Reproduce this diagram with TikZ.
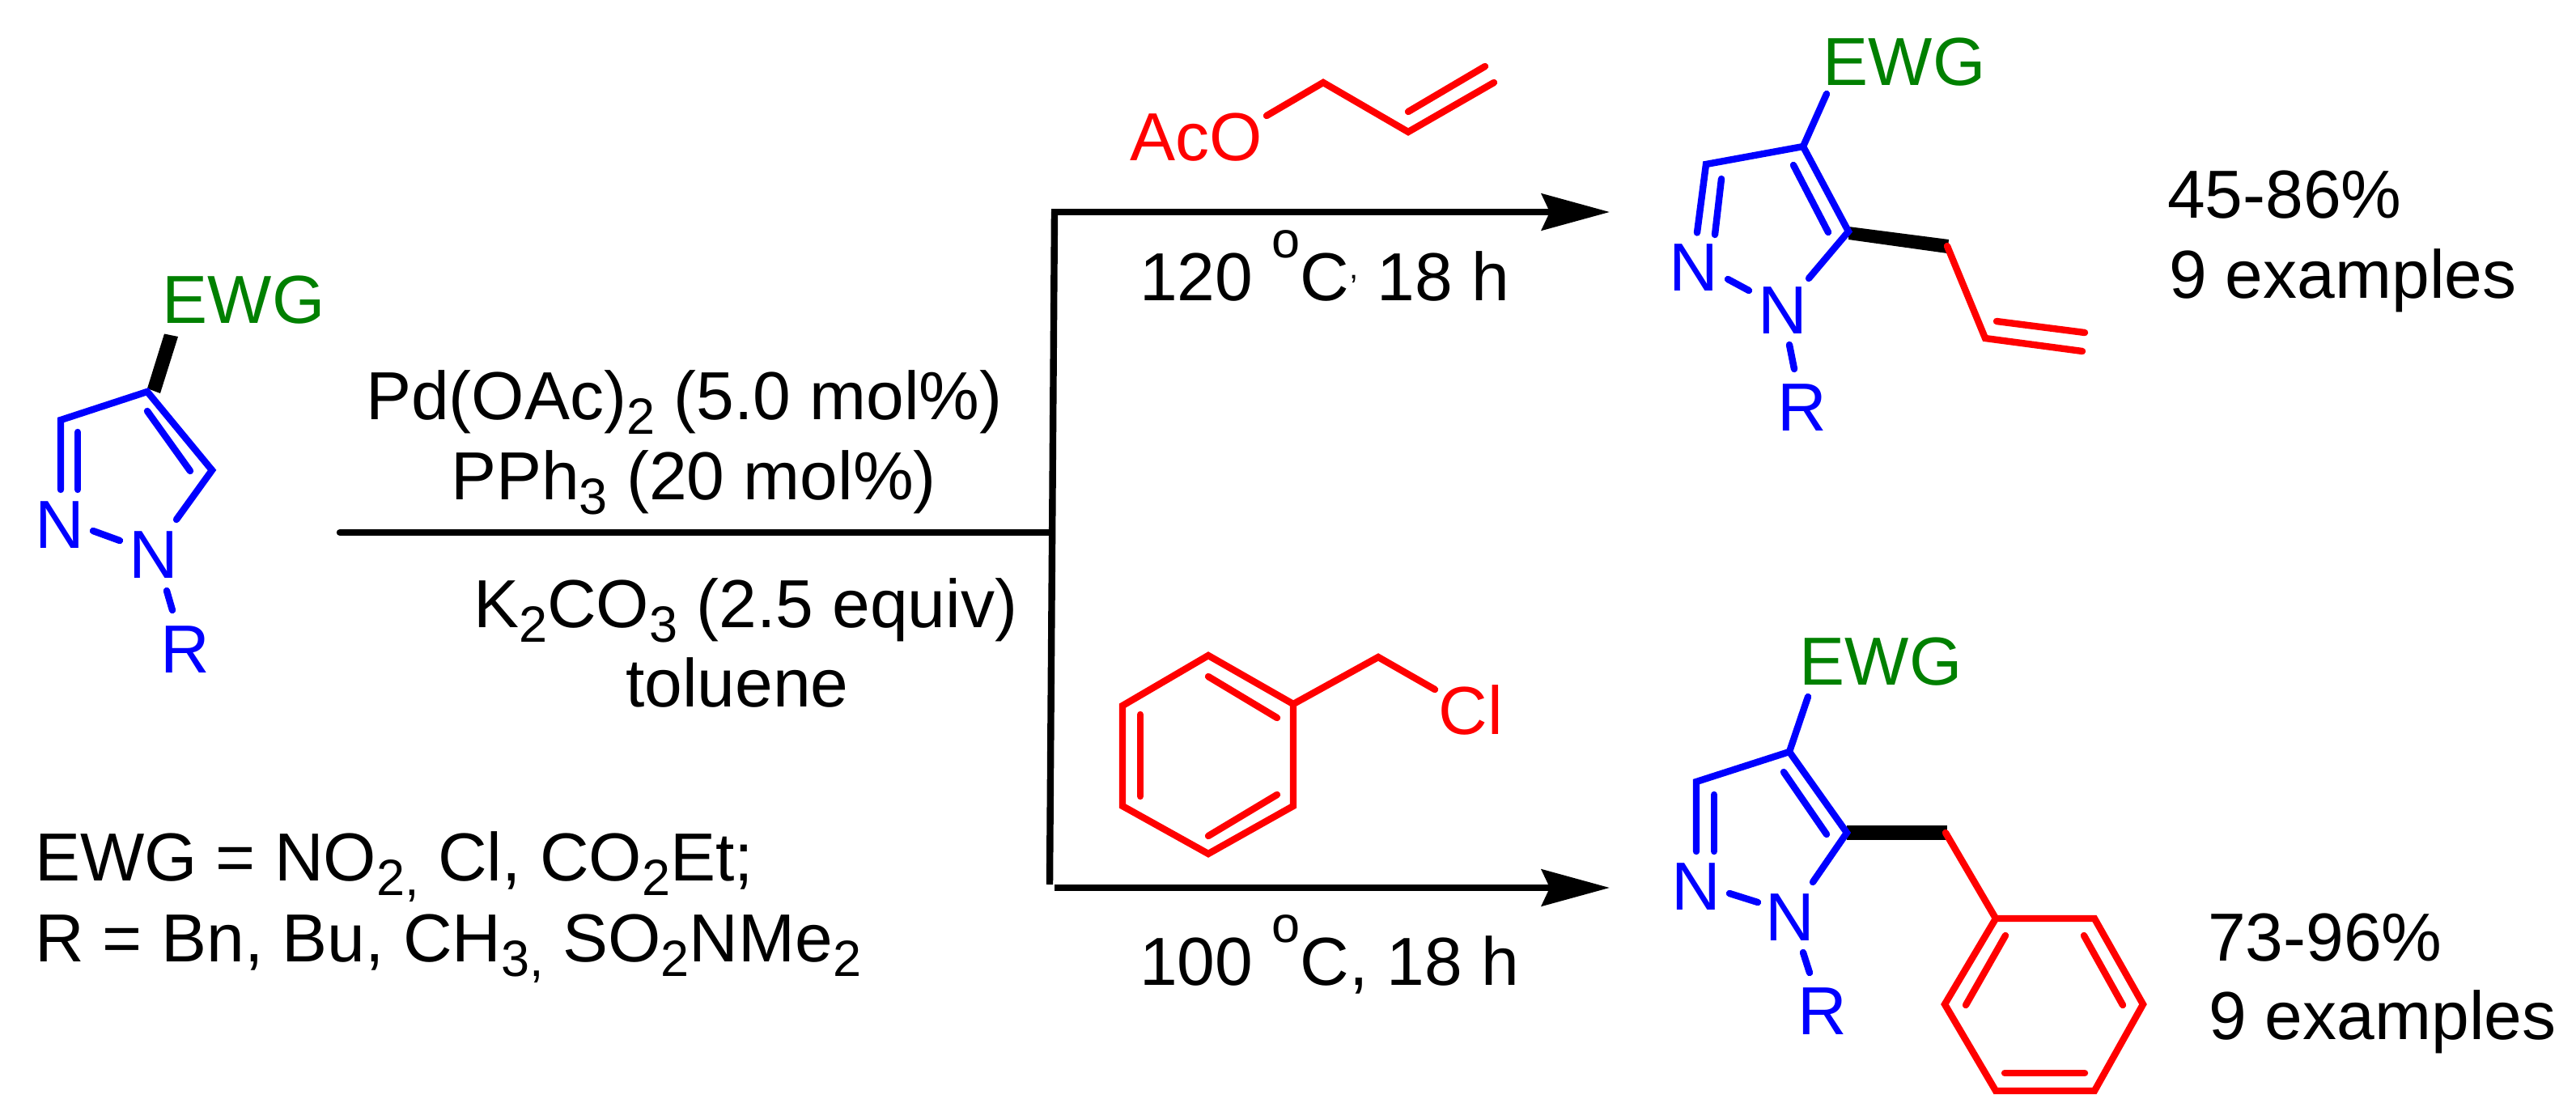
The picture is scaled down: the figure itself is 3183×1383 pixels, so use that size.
\documentclass[tikz,border=0pt]{standalone}
\usepackage{fontspec}
\setmainfont{Liberation Sans}
\usetikzlibrary{arrows.meta}
\definecolor{molblue}{RGB}{0,0,255}
\definecolor{molred}{RGB}{255,0,0}
\definecolor{molgreen}{RGB}{0,128,0}
\newcommand{\sbs}[1]{\raisebox{-0.22em}{\fontsize{15.75}{16}\selectfont #1}}
\newcommand{\spr}[1]{\raisebox{0.62em}{\fontsize{15.75}{16}\selectfont #1}}
\tikzset{
  x=0.25pt,y=-0.25pt,
  txt/.style={inner sep=0pt,outer sep=0pt,font=\fontsize{21}{25}\selectfont,text=black},
  lft/.style={txt,anchor=base west},
  ctr/.style={txt,anchor=base},
  atomb/.style={ctr,text=molblue},
  atomg/.style={ctr,text=molgreen},
  atomr/.style={ctr,text=molred},
  bond/.style={line width=2.1pt,line cap=round,line join=miter,color=molblue},
  rbond/.style={bond,color=molred},
  wedge/.style={fill=black,draw=none},
  rxn/.style={line width=2.1pt,color=black},
  rxnarrow/.style={rxn,-{Stealth[length=21pt,width=11.25pt,inset=2.5pt]}}
}
\begin{document}
\begin{tikzpicture}
\path[fill=white,use as bounding box] (0,0) rectangle (3183,1383);

% --- starting material
\coordinate (a4) at (182,484); \coordinate (a3) at (75,519); \coordinate (a3n) at (75,605);
\coordinate (a3i) at (96,534); \coordinate (a3j) at (96,605);
\coordinate (a5) at (262,581); \coordinate (a5i) at (182,508); \coordinate (a5j) at (235,582);
\coordinate (a1e) at (218,642); \coordinate (ann1) at (115,656); \coordinate (ann2) at (148,668);
\coordinate (ar1) at (206,730); \coordinate (ar2) at (213,754);
\fill[wedge] (182,480) -- (198,486) -- (220,416) -- (203,412.5) -- cycle;
\draw[bond] (a3n) -- (a3) -- (a4) -- (a5) -- (a1e);
\draw[bond] (a3i) -- (a3j);
\draw[bond] (a5i) -- (a5j);
\draw[bond] (ann1) -- (ann2);
\draw[bond] (ar1) -- (ar2);
\node[atomg] (aewg) at (301,399) {EWG};
\node[atomb] (an2) at (74,677) {N};
\node[atomb] (an1) at (190,714) {N};
\node[atomb] (ar) at (229,831) {R};

% --- reagents
\node[lft] (pd) at (452,518) {Pd(OAc)\sbs{2} (5.0 mol\%)};
\node[lft] (pph) at (557,617) {PPh\sbs{3} (20 mol\%)};
\node[lft] (k2) at (585,775) {K\sbs{2}CO\sbs{3} (2.5 equiv)};
\node[lft] (tol) at (773,873) {toluene};
\node[lft] (ewgdef) at (43,1088) {EWG = NO\sbs{2,} Cl, CO\sbs{2}Et;};
\node[lft] (rdef) at (43,1188) {R = Bn, Bu, CH\sbs{3,} SO\sbs{2}NMe\sbs{2}};

% --- reaction lines
\coordinate (start) at (420,658);
\coordinate (junc) at (1297,658);
\coordinate (top) at (1303,262);
\coordinate (bot) at (1297,1093);
\coordinate (toptip) at (1989,262);
\coordinate (botst) at (1303,1097);
\coordinate (bottip) at (1989,1097);
\draw[rxn,line cap=round] (start) -- (junc);
\draw[rxn] (top) -- (bot);
\draw[rxnarrow] (1299,262) -- (toptip);
\draw[rxnarrow] (botst) -- (bottip);

% --- allyl acetate
\coordinate (o1) at (1565,143); \coordinate (o2) at (1635,102); \coordinate (o3) at (1740,163);
\coordinate (o4) at (1846,102); \coordinate (o5) at (1740,138); \coordinate (o6) at (1835,82);
\draw[rbond] (o1) -- (o2) -- (o3) -- (o4);
\draw[rbond] (o5) -- (o6);
\node[atomr] (aco) at (1478,198) {AcO};
\node[lft] (t120) at (1408,371) {120 \spr{o}C\raisebox{0.32em}{\fontsize{10}{12}\selectfont ,} 18 h};

% --- benzyl chloride
\coordinate (p1) at (1493,810); \coordinate (p2) at (1598,870); \coordinate (p3) at (1598,996);
\coordinate (p4) at (1493,1055); \coordinate (p5) at (1387,996); \coordinate (p6) at (1387,872);
\coordinate (pc) at (1703,812); \coordinate (pe) at (1773,852);
\draw[rbond] (p1) -- (p2) -- (p3) -- (p4) -- (p5) -- (p6) -- cycle;
\draw[rbond] (p2) -- (pc) -- (pe);
\draw[rbond] (1493,836) -- (1578,887);
\draw[rbond] (1409,883) -- (1409,984);
\draw[rbond] (1493,1033) -- (1578,982);
\node[atomr] (cl) at (1817,907) {Cl};
\node[lft] (t100) at (1408,1217) {100 \spr{o}C, 18 h};

% --- allyl product
\coordinate (b4) at (2228,181); \coordinate (b3) at (2108,203); \coordinate (b3n) at (2097,287.5);
\coordinate (b3i) at (2127,221); \coordinate (b3j) at (2119,290);
\coordinate (b5) at (2284,286); \coordinate (b5i) at (2216,204); \coordinate (b5j) at (2259,287);
\coordinate (b1e) at (2235,344); \coordinate (bnn1) at (2135,345); \coordinate (bnn2) at (2161,359);
\coordinate (br1) at (2211,426); \coordinate (br2) at (2217,456); \coordinate (bew) at (2257,116);
\fill[wedge] (2284,280) -- (2408,296) -- (2406,313) -- (2284,296) -- cycle;
\draw[bond] (b3n) -- (b3) -- (b4) -- (b5) -- (b1e);
\draw[bond] (b3i) -- (b3j);
\draw[bond] (b5i) -- (b5j);
\draw[bond] (bnn1) -- (bnn2);
\draw[bond] (br1) -- (br2);
\draw[bond] (b4) -- (bew);
\coordinate (c1) at (2406,304); \coordinate (c2) at (2453,418); \coordinate (c3) at (2573,434);
\coordinate (c4) at (2467,397); \coordinate (c5) at (2576,411);
\draw[rbond] (c1) -- (c2) -- (c3);
\draw[rbond] (c4) -- (c5);
\node[atomg] (bewg) at (2353,105) {EWG};
\node[atomb] (bn2) at (2093,359) {N};
\node[atomb] (bn1) at (2203,412.5) {N};
\node[atomb] (br) at (2226.5,532) {R};
\node[lft] (y1) at (2678,269) {45-86\%};
\node[lft] (e1) at (2680,368) {9 examples};

% --- benzyl product
\coordinate (d4) at (2211,929); \coordinate (d3) at (2096,966); \coordinate (d3n) at (2096,1052);
\coordinate (d3i) at (2118,982); \coordinate (d3j) at (2118,1052);
\coordinate (d5) at (2282,1029); \coordinate (d5i) at (2204,954); \coordinate (d5j) at (2257,1031);
\coordinate (d1e) at (2240,1090); \coordinate (dnn1) at (2137,1104); \coordinate (dnn2) at (2172,1115);
\coordinate (dr1) at (2228,1177); \coordinate (dr2) at (2236,1202); \coordinate (dew) at (2234,861);
\fill[wedge] (2282,1020) -- (2405.5,1020) -- (2405.5,1037.5) -- (2282,1037.5) -- cycle;
\draw[bond] (d3n) -- (d3) -- (d4) -- (d5) -- (d1e);
\draw[bond] (d3i) -- (d3j);
\draw[bond] (d5i) -- (d5j);
\draw[bond] (dnn1) -- (dnn2);
\draw[bond] (dr1) -- (dr2);
\draw[bond] (d4) -- (dew);
\coordinate (q0) at (2404,1029);
\coordinate (q1) at (2466,1135); \coordinate (q2) at (2588,1135); \coordinate (q3) at (2648,1241);
\coordinate (q4) at (2588,1348); \coordinate (q5) at (2466,1348); \coordinate (q6) at (2403,1241);
\draw[rbond] (q0) -- (q1);
\draw[rbond] (q1) -- (q2) -- (q3) -- (q4) -- (q5) -- (q6) -- cycle;
\draw[rbond] (2478,1156) -- (2429,1242);
\draw[rbond] (2575,1156) -- (2623,1242);
\draw[rbond] (2477,1326) -- (2576,1326);
\node[atomg] (dewg) at (2324,846) {EWG};
\node[atomb] (dn2) at (2096,1124) {N};
\node[atomb] (dn1) at (2212,1162) {N};
\node[atomb] (dr) at (2251.5,1278) {R};
\node[lft] (y2) at (2728,1187) {73-96\%};
\node[lft] (e2) at (2729,1284) {9 examples};
\end{tikzpicture}
\end{document}
